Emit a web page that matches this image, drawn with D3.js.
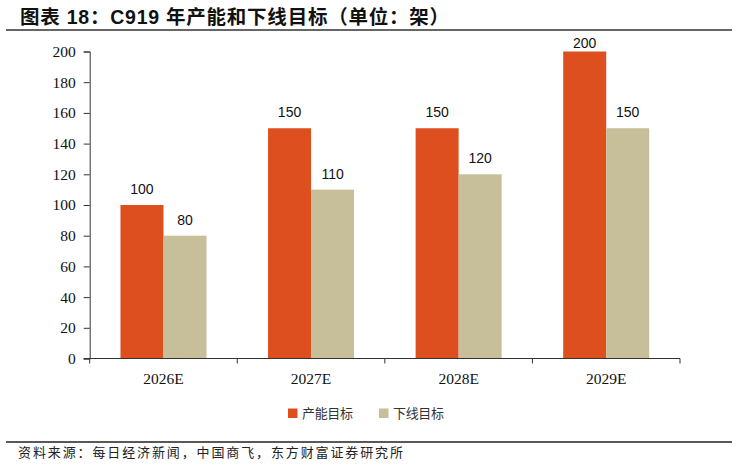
<!DOCTYPE html>
<html>
<head>
<meta charset="utf-8">
<script src="https://cdn.jsdelivr.net/npm/d3@7"></script>
<style>
html,body{margin:0;padding:0;background:#fff;}
svg{display:block;}
.serif{font-family:'Liberation Serif','Times New Roman',serif !important;}
</style>
</head>
<body>
<svg id="chart" width="737" height="465"></svg>
<script>
const categories = ["2026E", "2027E", "2028E", "2029E"];
const seriesNames = ["产能目标", "下线目标"];
const capacity = [100, 150, 150, 200];
const rollout = [80, 110, 120, 150];
const yTicks = [0, 20, 40, 60, 80, 100, 120, 140, 160, 180, 200];
const colors = ["#DD4F1E", "#C6BF99"];

const svg = d3.select("#chart");
const plotLeft = 89.7, plotRight = 680, plotTop = 51.5, plotBottom = 358.5;

// title
svg.append("text")
  .attr("x", 20).attr("y", 24)
  .attr("font-family", "'Liberation Sans','Noto Sans CJK SC',sans-serif")
  .attr("font-weight", "bold")
  .attr("font-size", 19.5)
  .attr("fill", "#111")
  .attr("textLength", 429).attr("lengthAdjust", "spacing")
  .text("图表 18：C919 年产能和下线目标（单位：架）");

svg.append("line").attr("x1", 6).attr("x2", 732).attr("y1", 30).attr("y2", 30)
  .attr("stroke", "#333").attr("stroke-width", 1.3);
svg.append("line").attr("x1", 6).attr("x2", 732).attr("y1", 442).attr("y2", 442)
  .attr("stroke", "#222").attr("stroke-width", 1.3);

// source
svg.append("text")
  .attr("x", 18).attr("y", 457)
  .attr("font-family", "'Noto Sans CJK SC',sans-serif")
  .attr("font-size", 13)
  .attr("fill", "#222")
  .attr("textLength", 385).attr("lengthAdjust", "spacing")
  .text("资料来源：每日经济新闻，中国商飞，东方财富证券研究所");

const x0 = d3.scaleBand().domain(categories).range([plotLeft, plotRight])
  .paddingInner(0.417).paddingOuter(0.2085);
const x1 = d3.scaleBand().domain(seriesNames).range([0, x0.bandwidth()]).padding(0);
const y = d3.scaleLinear().domain([0, 200]).range([plotBottom, plotTop]);

const data = categories.map((c, i) => ({cat: c, vals: [capacity[i], rollout[i]]}));

const g = svg.append("g");
const groups = g.selectAll("g.grp").data(data).join("g")
  .attr("transform", d => `translate(${x0(d.cat)},0)`);

groups.selectAll("rect").data(d => d.vals.map((v, j) => ({name: seriesNames[j], v, j})))
  .join("rect")
  .attr("x", d => x1(d.name))
  .attr("width", x1.bandwidth())
  .attr("y", d => y(d.v))
  .attr("height", d => y(0) - y(d.v))
  .attr("fill", d => colors[d.j]);

groups.selectAll("text.lbl").data(d => d.vals.map((v, j) => ({name: seriesNames[j], v, j})))
  .join("text").attr("class", "lbl")
  .attr("x", d => x1(d.name) + x1.bandwidth() / 2)
  .attr("y", d => Math.max(y(d.v) - 11, 47.5))
  .attr("text-anchor", "middle")
  .attr("font-family", "'Liberation Sans',sans-serif")
  .attr("font-size", 14)
  .attr("fill", "#111")
  .text(d => d.v);

// y axis
const yAxis = d3.axisLeft(y).tickValues(yTicks).tickSize(6).tickPadding(8);
const ya = svg.append("g").attr("transform", `translate(${plotLeft},0)`).call(yAxis);
ya.attr("font-family", null);
ya.select(".domain").attr("stroke", "#333");
ya.selectAll(".tick line").attr("stroke", "#333");
ya.selectAll(".tick text")
  .attr("class", "serif")
  .style("font-family", "'Liberation Serif','Times New Roman',serif")
  .attr("font-size", 15.5).attr("fill", "#111");

// x axis
const xa = svg.append("g").attr("transform", `translate(0,${plotBottom})`);
const bounds = categories.map(c => x0(c) - x0.step() * x0.paddingInner() / 2)
  .concat([plotRight]);
xa.append("line").attr("x1", plotLeft - 6).attr("x2", plotRight).attr("y1", 0).attr("y2", 0)
  .attr("stroke", "#333");
xa.selectAll("line.tk").data(bounds).join("line").attr("class", "tk")
  .attr("x1", d => d).attr("x2", d => d).attr("y1", 0).attr("y2", 5)
  .attr("stroke", "#333");
xa.selectAll("text").data(categories).join("text")
  .attr("x", d => x0(d) + x0.bandwidth() / 2)
  .attr("y", 25)
  .attr("text-anchor", "middle")
  .style("font-family", "'Liberation Serif','Times New Roman',serif")
  .attr("font-size", 15.5).attr("fill", "#111")
  .text(d => d);

// legend
const legendX = [288, 379];
const lg = svg.append("g");
seriesNames.forEach((n, i) => {
  lg.append("rect").attr("x", legendX[i]).attr("y", 408.5).attr("width", 9.5).attr("height", 9.5)
    .attr("fill", colors[i]);
  lg.append("text").attr("x", legendX[i] + 14).attr("y", 418)
    .attr("font-family", "'Noto Sans CJK SC',sans-serif")
    .attr("font-size", 13).attr("fill", "#333")
    .attr("textLength", 51).attr("lengthAdjust", "spacing")
    .text(n);
});
</script>
</body>
</html>
